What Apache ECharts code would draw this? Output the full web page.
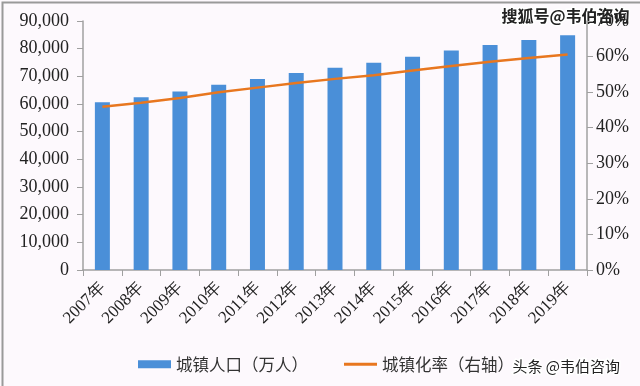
<!DOCTYPE html>
<html><head><meta charset="utf-8">
<script src="https://cdn.jsdelivr.net/npm/echarts@6/dist/echarts.min.js"></script>
<style>html,body{margin:0;padding:0;background:#fdf9fd}#c{width:640px;height:386px}</style>
</head><body><div id="c"></div>
<script>
const categories = ['2007年','2008年','2009年','2010年','2011年','2012年','2013年','2014年','2015年','2016年','2017年','2018年','2019年'];
const population = [60633,62403,64512,66978,69079,71182,73111,74916,77116,79298,81347,83137,84843];
const rate = [45.89,46.99,48.34,49.95,51.27,52.57,53.73,54.77,56.10,57.35,58.52,59.58,60.60];
const serif = '"Liberation Serif","DejaVu Serif",serif';
const cjk = '"Noto Sans CJK SC",sans-serif';
const chart = echarts.init(document.getElementById('c'));
chart.setOption({
  backgroundColor:'#fdf9fd',
  animation:false,
  grid:{left:83,right:53,top:21,bottom:116},
  legend:{
    left:133, top:351, itemWidth:33, itemHeight:8, itemGap:36,
    textStyle:{fontFamily:cjk,fontSize:16.5,color:'#333'},
    data:[{name:'城镇人口（万人）',icon:'rect'},{name:'城镇化率（右轴）',icon:'path://M0,0h33v3h-33z'}]
  },
  xAxis:{type:'category',data:categories,
    axisLine:{lineStyle:{color:'#a0a0a0',width:1.5}},
    axisTick:{show:true,length:6,lineStyle:{color:'#a0a0a0'}},
    axisLabel:{rotate:45,fontFamily:serif,fontSize:17,color:'#222',margin:15,interval:0}
  },
  yAxis:[
    {type:'value',min:0,max:90000,interval:10000,
     axisLine:{show:true,lineStyle:{color:'#a0a0a0',width:1.5}},
     axisTick:{show:true,length:6,lineStyle:{color:'#a0a0a0'}},
     splitLine:{show:false},
     axisLabel:{fontFamily:serif,fontSize:18,color:'#222',margin:14,
       formatter:v=>v.toLocaleString('en-US')}},
    {type:'value',min:0,max:70,interval:10,position:'right',
     axisLine:{show:true,lineStyle:{color:'#a0a0a0',width:1.5}},
     axisTick:{show:true,length:6,lineStyle:{color:'#a0a0a0'}},
     splitLine:{show:false},
     axisLabel:{fontFamily:serif,fontSize:18,color:'#222',margin:9,formatter:'{value}%'}}
  ],
  series:[
    {name:'城镇人口（万人）',type:'bar',data:population,barWidth:15,
     itemStyle:{color:'#4a8fd8'}},
    {name:'城镇化率（右轴）',type:'line',yAxisIndex:1,data:rate,symbol:'none',
     lineStyle:{color:'#e8771f',width:2.5},itemStyle:{color:'#e8771f'}}
  ],
  graphic:[
    {type:'rect',left:0,top:0,shape:{width:639,height:385},
     style:{fill:'none',stroke:'#9a9a9a',lineWidth:2},silent:true},
    {type:'text',left:500,top:6,
     style:{text:'搜狐号@韦伯咨询',font:'bold 16px "Noto Sans CJK SC"',fill:'#222',stroke:'#fff',lineWidth:3}},
    {type:'text',left:511,top:357,
     style:{text:'头条 @韦伯咨询',font:'15px "Noto Sans CJK SC"',fill:'#222',stroke:'#fff',lineWidth:3}}
  ]
});
</script></body></html>
